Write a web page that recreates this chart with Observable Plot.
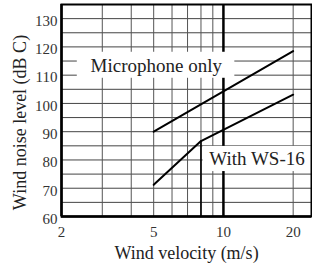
<!DOCTYPE html>
<html>
<head>
<meta charset="utf-8">
<script src="https://cdn.jsdelivr.net/npm/d3@7"></script>
<script src="https://cdn.jsdelivr.net/npm/@observablehq/plot@0.6"></script>
<style>
  html, body { margin: 0; padding: 0; background: white; }
</style>
</head>
<body>
<div id="chart"></div>
<script>
// ---- data ----
const micVelocity = [5, 20];
const micLevel = [90, 118.5];
const wsVelocity = [5, 8, 20];
const wsLevel = [71.2, 86.7, 103.1];

const xTicks = [2, 5, 10, 20];
const yTicks = [60, 70, 80, 90, 100, 110, 120, 130];
const gridY = [60, 65, 70, 75, 80, 85, 90, 95, 100, 105, 110, 115, 120, 125, 130, 135];
const gridXMinor = [3, 4, 5, 6, 7, 8, 9, 20];
const gridXMajor = [10];

const labelText = ["Microphone only", "With WS-16"];
const labelX = [5.13, 13.96];
const labelY = [113.3, 80.4];
const boxX1 = [2.34, 8.17];
const boxX2 = [11.2, 24];
const boxY1 = [108.9, 75.9];
const boxY2 = [118.1, 84.8];

const xTitle = "Wind velocity (m/s)";
const yTitle = "Wind noise level (dB C)";

// ---- build tables ----
const lines = [
  ...micVelocity.map((v, i) => ({series: labelText[0], v, level: micLevel[i]})),
  ...wsVelocity.map((v, i) => ({series: labelText[1], v, level: wsLevel[i]}))
];
const boxes = labelText.map((t, i) => ({x1: boxX1[i], x2: boxX2[i], y1: boxY1[i], y2: boxY2[i]}));
const labels = labelText.map((t, i) => ({text: t, x: labelX[i], y: labelY[i]}));
const drops = [{v: wsVelocity[1], level: wsLevel[1]}];

const chart = Plot.plot({
  width: 312,
  height: 269,
  marginLeft: 61,
  marginRight: 1,
  marginTop: 4,
  marginBottom: 53,
  style: {fontFamily: "'Liberation Serif', 'Times New Roman', serif", background: "white", color: "black"},
  x: {type: "log", domain: [2, 24]},
  y: {domain: [60, 135]},
  marks: [
    Plot.ruleY(gridY, {stroke: "#444", strokeWidth: 1}),
    Plot.ruleX(gridXMinor, {stroke: "#555", strokeWidth: 1}),
    Plot.ruleX(gridXMajor, {stroke: "black", strokeWidth: 2.5}),
    Plot.ruleX(drops, {x: "v", y1: 60, y2: "level", stroke: "black", strokeWidth: 1.6}),
    Plot.line(lines, {x: "v", y: "level", z: "series", stroke: "black", strokeWidth: 2}),
    Plot.rect(boxes, {x1: "x1", x2: "x2", y1: "y1", y2: "y2", fill: "white"}),
    Plot.text(labels, {x: "x", y: "y", text: "text", fontSize: 19, fill: "#222"}),
    Plot.axisX({ticks: xTicks, tickSize: 0, tickPadding: 10, fontSize: 15, tickFormat: d => String(d), label: null, fill: "#333"}),
    Plot.axisY({ticks: yTicks, tickSize: 0, tickPadding: 4, fontSize: 15, dy: 2.5, label: null, fill: "#333"}),
    Plot.frame({stroke: "black", strokeWidth: 2}),
    Plot.ruleX([2], {stroke: "black", strokeWidth: 2.5}),
    Plot.ruleY([60], {stroke: "black", strokeWidth: 2.5}),
    Plot.text([xTitle], {frameAnchor: "bottom", lineAnchor: "middle", textAnchor: "middle", dy: 37, fontSize: 18, fill: "#222"}),
    Plot.text([yTitle], {frameAnchor: "left", textAnchor: "middle", lineAnchor: "middle", dx: -41, dy: 12, rotate: -90, fontSize: 18, fill: "#222"})
  ]
});
document.getElementById("chart").appendChild(chart);
</script>
</body>
</html>
